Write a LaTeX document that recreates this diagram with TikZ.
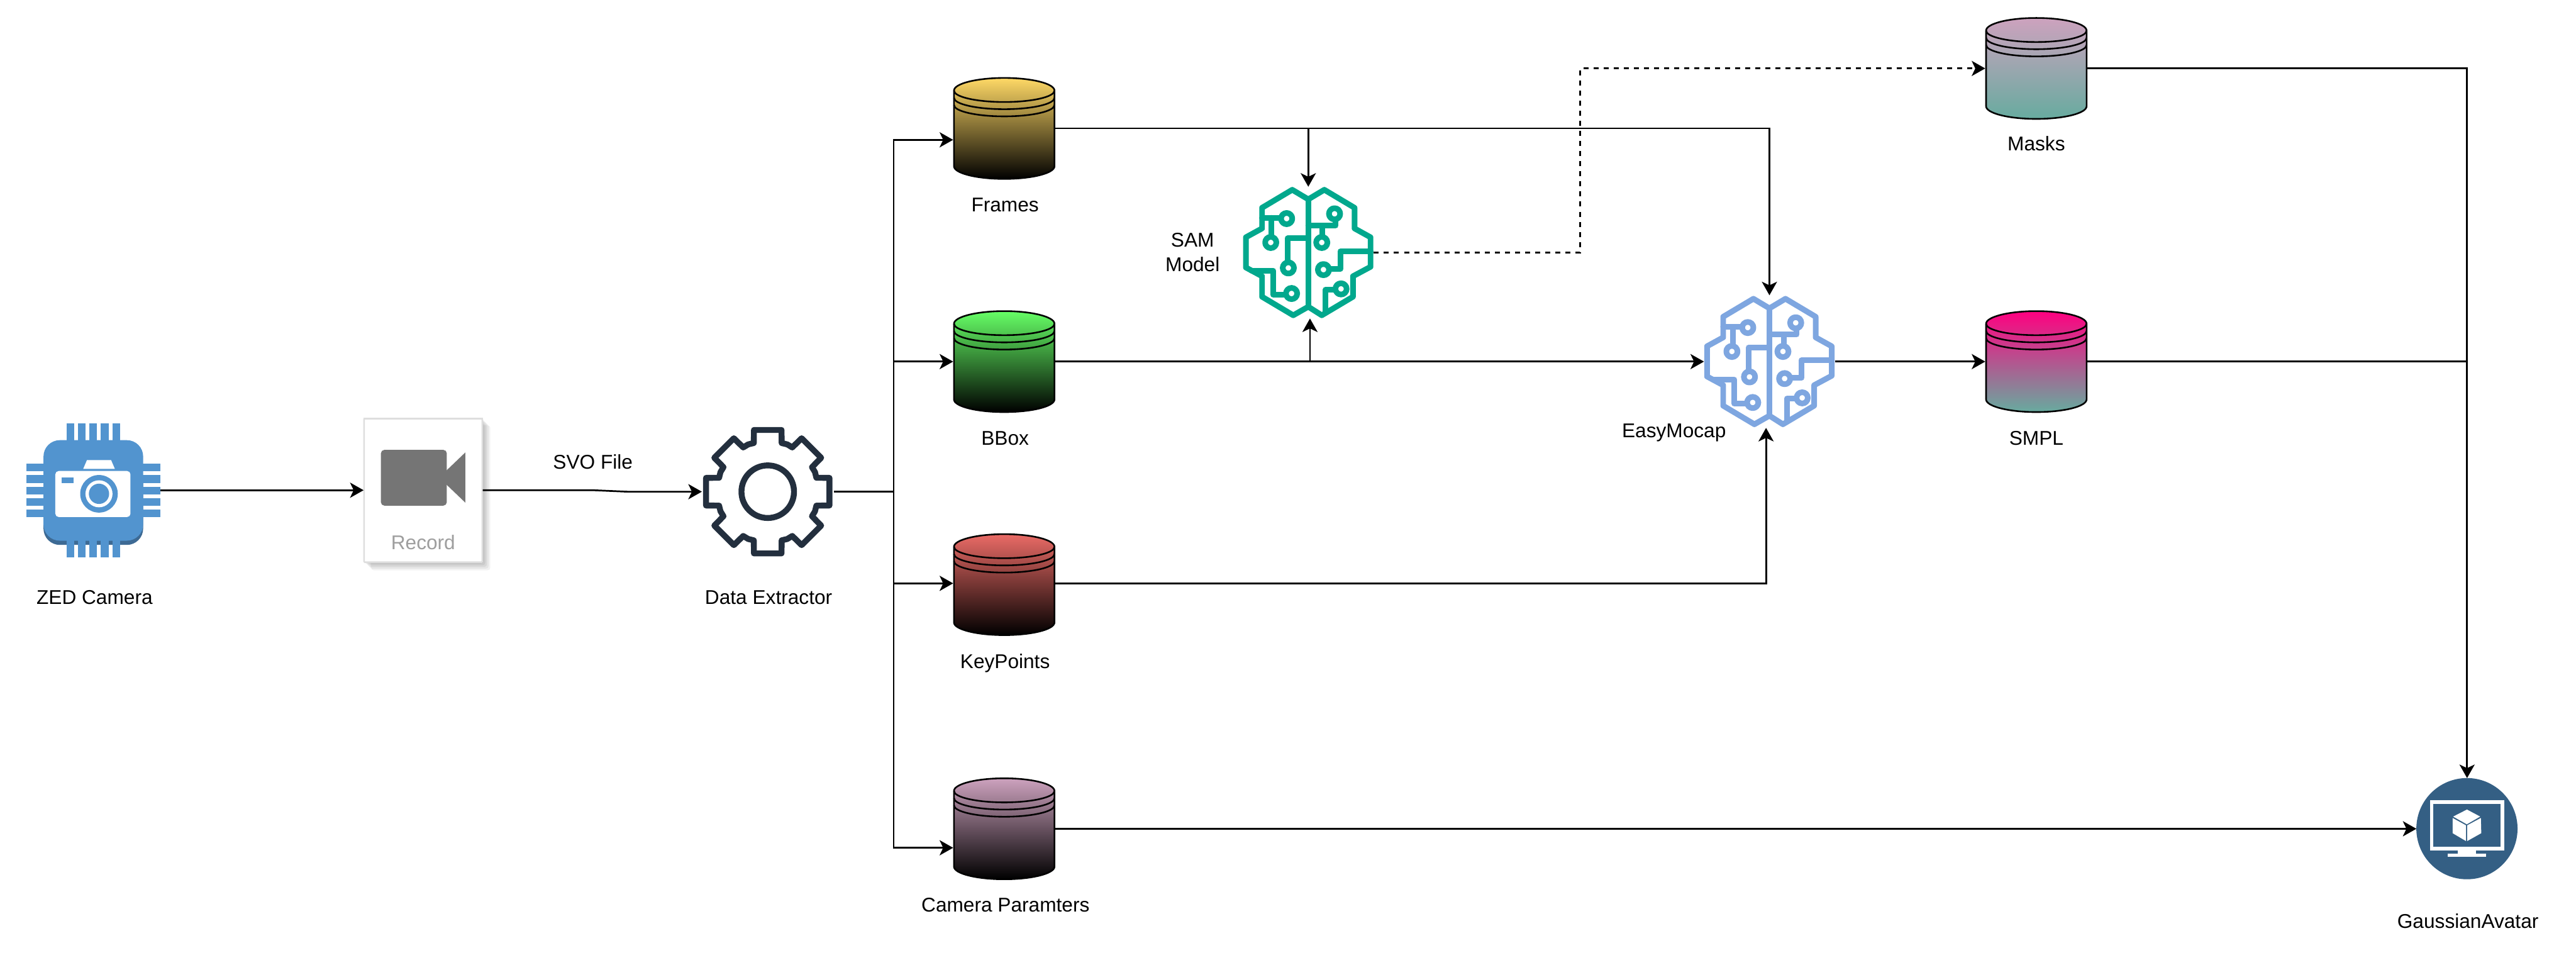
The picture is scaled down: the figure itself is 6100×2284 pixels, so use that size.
\documentclass[tikz,border=0pt]{standalone}
\usepackage{fontspec}
\setmainfont{Liberation Sans}
\usetikzlibrary{arrows.meta}
\definecolor{zedblue}{HTML}{5294CF}
\definecolor{zedshade}{HTML}{3D6A94}
\definecolor{gearcol}{HTML}{232F3E}
\definecolor{samgreen}{HTML}{01A88D}
\definecolor{mocapblue}{HTML}{7EA6E0}
\definecolor{gablue}{HTML}{345F84}
\definecolor{camgrey}{HTML}{757575}
\definecolor{txtgrey}{HTML}{9E9E9E}
\definecolor{tealend}{HTML}{67AB9F}
\definecolor{topyellow}{HTML}{FFD966}
\definecolor{topgreen}{HTML}{66FF66}
\definecolor{topred}{HTML}{EA6B66}
\definecolor{toppurple}{HTML}{CDA2BE}
\definecolor{toppink}{HTML}{FF0080}
\tikzset{
  anchorbox/.style 2 args={inner sep=0pt,outer sep=0pt,minimum width=#1*0.01cm,minimum height=#2*0.01cm,draw=none},
  lbl/.style={inner sep=0pt,outer sep=0pt,anchor=base,font=\fontsize{13.4pt}{16.5pt}\selectfont,align=center},
  arr/.style={line width=1.15pt,-{Stealth[length=9.1pt,width=10.2pt,inset=2.4pt]}},
  plainline/.style={line width=1.15pt},
  zoomed/.style={x=0.00333333cm,y=-0.00333333cm},
  ring/.style={fill=white,radius=40},
  pics/brain/.style={code={
    \begin{scope}[zoomed,draw=#1,line width=3.8pt,line join=round,line cap=round]
      \draw (0,-379)--(-114,-447)--(-329,-319)--(-329,-172)--(-444,-109)--(-444,106)--(-329,168)--(-329,314)--(-107,446)--(0,385)--(96,446)--(318,314)--(318,168)--(443,101)--(443,-109)--(329,-172)--(329,-319)--(114,-447)--cycle;
      \draw (0,-379)--(0,385);
      \draw (-329,-247)--(-154,-247);
      \draw (-261,-247)--(-261,-72);
      \draw (-20,-101)--(-147,-101)--(-147,109);
      \draw (-404,128)--(-251,128)--(-251,298)--(-119,298);
      \draw (0,-192)--(194,-192)--(194,-274);
      \draw (101,-192)--(101,-72);
      \draw (443,-9)--(228,-9)--(228,116)--(106,116);
      \draw (124,426)--(124,264)--(233,264);
      \filldraw[ring] (-154,-242) circle;
      \filldraw[ring] (-267,-72) circle;
      \filldraw[ring] (-142,109) circle;
      \filldraw[ring] (-119,291) circle;
      \filldraw[ring] (187,-276) circle;
      \filldraw[ring] (96,-72) circle;
      \filldraw[ring] (108,121) circle;
      \filldraw[ring] (233,258) circle;
    \end{scope}
  }},
  pics/drum/.style 2 args={code={
    \shade[top color=#1,bottom color=#2,draw=black,line width=1.1pt]
      (-119,-89.5) arc[start angle=180,end angle=360,x radius=119,y radius=30]
      -- (119,89.5) arc[start angle=0,end angle=180,x radius=119,y radius=30] -- cycle;
    \foreach \d in {0,17,34}
      \draw[black,line width=1.1pt] (-119,-89.5+\d) arc[start angle=180,end angle=0,x radius=119,y radius=27];
  }}
}
\begin{document}
\begin{tikzpicture}[x=0.01cm,y=-0.01cm]
\useasboundingbox (0,0) rectangle (6100,2284);
\fill[white] (0,0) rectangle (6100,2284);

% ---- named nodes (icon extents)
\node[anchorbox={318}{318}] (zed) at (221,1160.5) {};
\node[anchorbox={282}{343}] (record) at (1002,1160.5) {};
\node[anchorbox={312}{311}] (extractor) at (1818,1164) {};
\node[anchorbox={242}{243}] (frames) at (2378,304) {};
\node[anchorbox={242}{243}] (bbox) at (2378,856) {};
\node[anchorbox={242}{243}] (keypoints) at (2378,1384) {};
\node[anchorbox={242}{243}] (camparams) at (2378,1962) {};
\node[anchorbox={242}{243}] (masks) at (4822,162) {};
\node[anchorbox={242}{243}] (smpl) at (4822,856) {};
\node[anchorbox={310}{312}] (sam) at (3098,598) {};
\node[anchorbox={310}{314}] (mocap) at (4190,856) {};
\node[anchorbox={240}{240}] (avatar) at (5842,1962) {};

% ---- ZED camera
\begin{scope}
  \fill[zedshade,rounded corners=11pt] (103,1100) rectangle (339,1290);
  \fill[zedblue,rounded corners=11pt] (103,1042) rectangle (339,1280);
  \foreach \a in {158,185,212,239,266} {
    \fill[zedblue] (\a,1002) rectangle (\a+18,1046);
    \fill[zedblue] (\a,1276) rectangle (\a+18,1320);
  }
  \foreach \b in {1098,1125,1152,1179,1206} {
    \fill[zedblue] (62,\b) rectangle (107,\b+18);
    \fill[zedblue] (335,\b) rectangle (380,\b+18);
  }
  \fill[white,rounded corners=2.3pt] (131,1115) rectangle (309,1224);
  \fill[white] (206,1089)--(263,1089)--(272,1110)--(197,1110)--cycle;
  \fill[zedblue] (146,1130) rectangle (174,1144);
  \fill[zedblue] (234.4,1169) circle[radius=44.5];
  \fill[white] (234.4,1169) circle[radius=32];
  \fill[zedblue] (234.4,1169) circle[radius=24];
\end{scope}
\node[lbl] (zedlabel) at (224,1431) {ZED Camera};

% ---- Record card
\foreach \g/\o in {2/0.06,6/0.06,10/0.06,14/0.05,18/0.05}
  \fill[black,opacity=\o,rounded corners=1.7pt] (861+\g,989+\g) rectangle (1143+\g,1332+\g);
\filldraw[fill=white,draw=black!13,line width=1.1pt,rounded corners=0.6pt] (862,991) rectangle (1142,1331);
\fill[black!13] (861,989) rectangle (1143,994);
\fill[camgrey,rounded corners=2.3pt] (902,1065) rectangle (1058,1197);
\fill[camgrey] (1056,1115)--(1102,1071)--(1102,1190)--(1056,1146)--cycle;
\node[lbl,text=txtgrey] (recordlabel) at (1002,1301) {Record};

% ---- gear
\begin{scope}[shift={(1818,1164)},zoomed]
  \draw[gearcol,line width=3.98pt,line join=round]
    (106:360)
    \foreach \a in {90,45,0,-45,-90,-135,-180,-225} {
      -- (\a+16:360) -- (\a+12.6:450) -- (\a-12.6:450) -- (\a-16:360) -- (\a-22.5:364)
    } -- cycle;
  \draw[gearcol,line width=3.98pt] (0,0) circle[radius=187];
\end{scope}
\node[lbl] (extractorlabel) at (1820,1431) {Data Extractor};

% ---- drums
\pic at (frames) {drum={topyellow}{black}};
\pic at (bbox) {drum={topgreen}{black}};
\pic at (keypoints) {drum={topred}{black}};
\pic at (camparams) {drum={toppurple}{black}};
\pic at (masks) {drum={toppurple}{tealend}};
\pic at (smpl) {drum={toppink}{tealend}};
\node[lbl] (frameslabel) at (2380,501) {Frames};
\node[lbl] (bboxlabel) at (2380,1054) {BBox};
\node[lbl] (keypointslabel) at (2380,1583) {KeyPoints};
\node[lbl] (camlabel) at (2381,2159) {Camera Paramters};
\node[lbl] (maskslabel) at (4822,357) {Masks};
\node[lbl] (smpllabel) at (4822,1054) {SMPL};

% ---- brains
\pic at (sam) {brain=samgreen};
\pic at (mocap) {brain=mocapblue};
\node[lbl,anchor=center] (samlabel) at (2824,598) {SAM\\Model};
\node[lbl] (mocaplabel) at (3964,1036) {EasyMocap};
\node[lbl] (svolabel) at (1404,1110) {SVO File};

% ---- avatar
\begin{scope}[shift={(5650,1800)},zoomed]
  \fill[gablue] (576,486) circle[radius=360];
  \fill[white] (313,285) rectangle (840,640);
  \fill[gablue] (338,310) rectangle (816,616);
  \fill[white] (511,640) rectangle (640,664);
  \fill[white] (441,662) rectangle (711,687);
  \fill[white] (576,350)--(670,400)--(575,455)--(478,400)--cycle;
  \fill[white] (474,410)--(569,462)--(569,574)--(474,518)--cycle;
  \fill[white] (578,462)--(675,410)--(678,518)--(578,574)--cycle;
\end{scope}
\node[lbl] (avatarlabel) at (5844,2197) {GaussianAvatar};

% ---- connector helper coordinates
\coordinate (bus) at (2116,1164);
\coordinate (framesin) at (2257,331);
\coordinate (bboxin) at (2257,856);
\coordinate (keyin) at (2257,1381);
\coordinate (camin) at (2257,2007);
\coordinate (frameover) at (3098,304);
\coordinate (samtop) at (3098,442);
\coordinate (bboxjoin) at (3102,856);
\coordinate (sambot) at (3102,754);
\coordinate (mocaptop) at (4190,699);
\coordinate (mocapbot) at (4182,1013);
\coordinate (keybend) at (4182,1381);
\coordinate (dashA) at (3742,598);
\coordinate (dashB) at (3742,162);
\coordinate (gabus) at (5842,162);
\coordinate (gajoin) at (5842,856);
\coordinate (svoA) at (1405,1160.5);
\coordinate (svoB) at (1485,1164);

% ---- connectors
\draw[arr] (zed.east) -- (record.west);
\draw[arr] (record.east) -- (svoA) -- (svoB) -- (extractor.west);
\draw[plainline] (extractor.east) -- (bus);
\draw[arr] (bus) |- (framesin);
\draw[arr] (bus) |- (bboxin);
\draw[arr] (bus) |- (keyin);
\draw[arr] (bus) |- (camin);
\draw[arr] (frames.east) -| (mocaptop);
\draw[arr] (frameover) -- (samtop);
\draw[arr] (bbox.east) -- (mocap.west);
\draw[arr] (bboxjoin) -- (sambot);
\draw[arr] (keypoints.east |- keybend) -- (keybend) -- (mocapbot);
\draw[arr] (camparams.east) -- (avatar.west);
\draw[arr,dash pattern=on 3.4pt off 3.4pt] (sam.east) -- (dashA) -- (dashB) -- (masks.west);
\draw[arr] (mocap.east) -- (smpl.west);
\draw[arr] (masks.east) -- (gabus) -- (avatar.north);
\draw[plainline] (smpl.east) -- (gajoin);
\end{tikzpicture}
\end{document}
